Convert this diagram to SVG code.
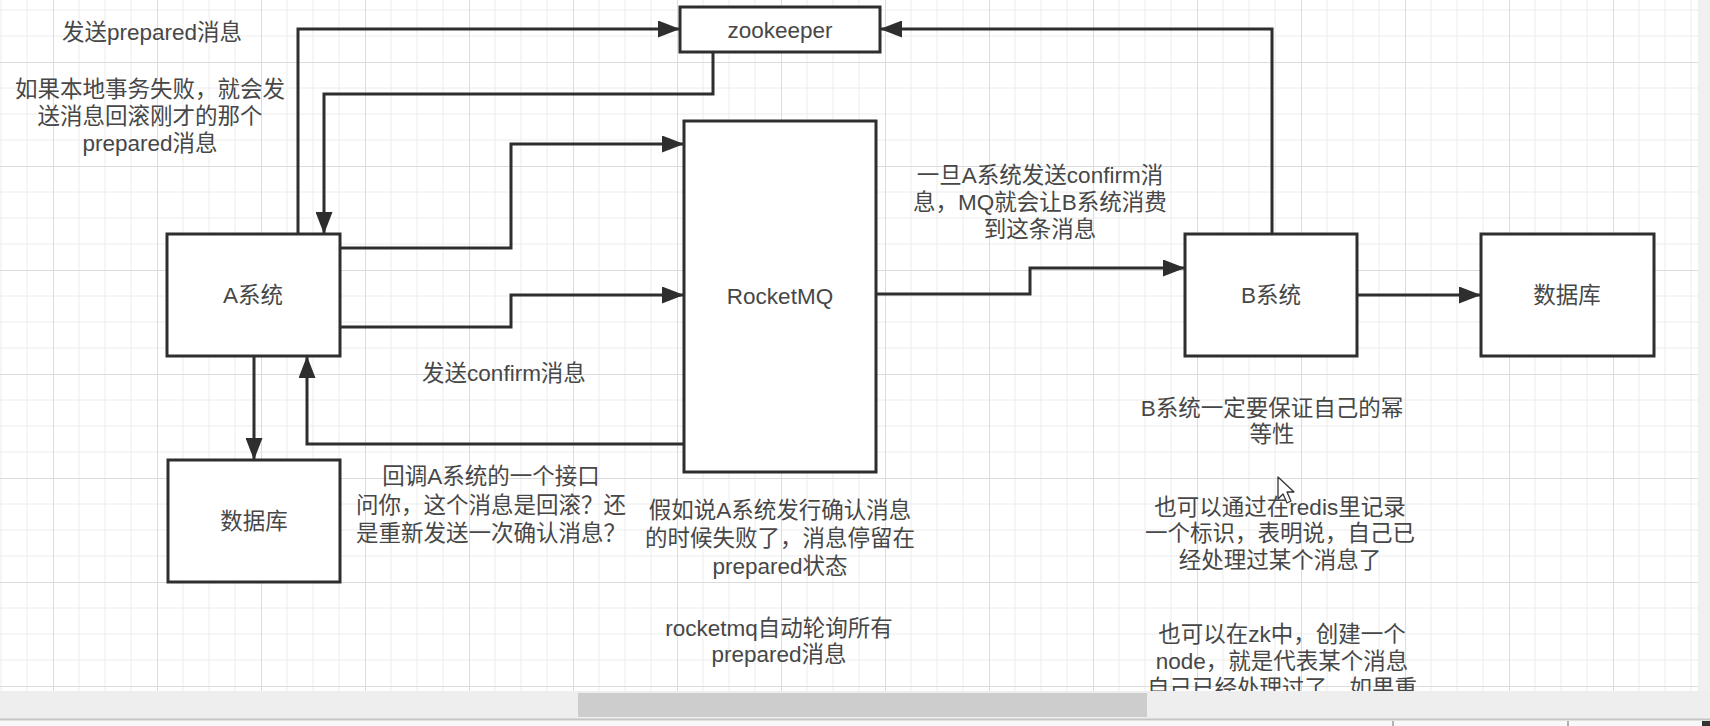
<svg xmlns="http://www.w3.org/2000/svg" width="1710" height="726" viewBox="0 0 1710 726">
<style>
.box{fill:#ffffff;stroke:#2e2e2e;stroke-width:3}
.edge{fill:none;stroke:#2e2e2e;stroke-width:3;stroke-linejoin:miter}
.t{font-family:"Liberation Sans","Noto Sans CJK SC",sans-serif;font-size:22.5px;fill:#474747;text-anchor:middle}
.minor{stroke:#ececec;stroke-width:1}
.major{stroke:#dcdcdc;stroke-width:1}
</style>
<defs>
<pattern id="grid" x="53" y="62" width="104" height="104" patternUnits="userSpaceOnUse">
<line class="minor" x1="26" y1="0" x2="26" y2="104"/>
<line class="minor" x1="52" y1="0" x2="52" y2="104"/>
<line class="minor" x1="78" y1="0" x2="78" y2="104"/>
<line class="minor" x1="0" y1="26" x2="104" y2="26"/>
<line class="minor" x1="0" y1="52" x2="104" y2="52"/>
<line class="minor" x1="0" y1="78" x2="104" y2="78"/>
<line class="major" x1="0.5" y1="0" x2="0.5" y2="104"/>
<line class="major" x1="0" y1="0.5" x2="104" y2="0.5"/>
</pattern>
<marker id="arr" markerUnits="userSpaceOnUse" markerWidth="22" markerHeight="17" refX="22" refY="8.5" orient="auto">
<path d="M0,0 L22,8.5 L0,17 Z" fill="#2e2e2e"/>
</marker>
<clipPath id="canvasClip"><rect x="0" y="0" width="1698" height="691"/></clipPath>
</defs>

<g id="background">
<rect x="0" y="0" width="1710" height="726" fill="#ffffff"/>
<rect x="0" y="0" width="1698" height="691" fill="url(#grid)"/>
<rect x="1698" y="0" width="12" height="691" fill="#f0f0f0"/>
<rect x="0" y="691" width="1710" height="28" fill="#eeeeee"/>
<rect x="578" y="693" width="569" height="24" fill="#cdcdcd"/>
<line x1="0" y1="719.5" x2="1710" y2="719.5" stroke="#c4c4c4" stroke-width="2"/>
<rect x="0" y="721" width="1710" height="5" fill="#f8f8f8"/>
<line x1="1393" y1="721" x2="1393" y2="726" stroke="#9a9a9a" stroke-width="1.5"/>
<line x1="1568" y1="721" x2="1568" y2="726" stroke="#9a9a9a" stroke-width="1.5"/>
<rect x="1702" y="721" width="8" height="5" fill="#333333"/>
</g>

<g id="connectors">
<path class="edge" d="M298,234 L298,29 L680,29" marker-end="url(#arr)"/>
<path class="edge" d="M713,52 L713,94 L324,94 L324,234" marker-end="url(#arr)"/>
<path class="edge" d="M340,248 L511,248 L511,144 L684,144" marker-end="url(#arr)"/>
<path class="edge" d="M340,327 L511,327 L511,295 L684,295" marker-end="url(#arr)"/>
<path class="edge" d="M684,444 L307,444 L307,356" marker-end="url(#arr)"/>
<path class="edge" d="M254,356 L254,460" marker-end="url(#arr)"/>
<path class="edge" d="M876,294 L1030,294 L1030,268 L1185,268" marker-end="url(#arr)"/>
<path class="edge" d="M1272,234 L1272,29 L880,29" marker-end="url(#arr)"/>
<path class="edge" d="M1357,295 L1481,295" marker-end="url(#arr)"/>
</g>

<g id="zookeeper">
<rect class="box" x="680" y="7" width="200" height="45"/>
<text class="t" x="780" y="38">zookeeper</text>
</g>
<g id="rocketmq">
<rect class="box" x="684" y="121" width="192" height="351"/>
<text class="t" x="780" y="304">RocketMQ</text>
</g>
<g id="a-system">
<rect class="box" x="167" y="234" width="173" height="122"/>
<text class="t" x="253" y="303">A系统</text>
</g>
<g id="a-db">
<rect class="box" x="168" y="460" width="172" height="122"/>
<text class="t" x="254" y="529">数据库</text>
</g>
<g id="b-system">
<rect class="box" x="1185" y="234" width="172" height="122"/>
<text class="t" x="1271" y="303">B系统</text>
</g>
<g id="b-db">
<rect class="box" x="1481" y="234" width="173" height="122"/>
<text class="t" x="1567" y="303">数据库</text>
</g>

<g id="labels" clip-path="url(#canvasClip)">
<text class="t" x="152" y="40">发送prepared消息</text>
<text class="t" y="97"><tspan x="150">如果本地事务失败，就会发</tspan><tspan x="150" dy="27">送消息回滚刚才的那个</tspan><tspan x="150" dy="27">prepared消息</tspan></text>
<text class="t" x="504" y="381">发送confirm消息</text>
<text class="t" y="183"><tspan x="1040">一旦A系统发送confirm消</tspan><tspan x="1040" dy="27">息，MQ就会让B系统消费</tspan><tspan x="1040" dy="27">到这条消息</tspan></text>
<text class="t" y="484"><tspan x="491">回调A系统的一个接口</tspan><tspan x="491" dy="29">问你，这个消息是回滚？还</tspan><tspan x="491" dy="28">是重新发送一次确认消息？</tspan></text>
<text class="t" y="518"><tspan x="780">假如说A系统发行确认消息</tspan><tspan x="780" dy="28">的时候失败了，消息停留在</tspan><tspan x="780" dy="28">prepared状态</tspan></text>
<text class="t" y="636"><tspan x="779">rocketmq自动轮询所有</tspan><tspan x="779" dy="26">prepared消息</tspan></text>
<text class="t" y="416"><tspan x="1272">B系统一定要保证自己的幂</tspan><tspan x="1272" dy="26">等性</tspan></text>
<text class="t" y="515"><tspan x="1280">也可以通过在redis里记录</tspan><tspan x="1280" dy="26">一个标识，表明说，自己已</tspan><tspan x="1280" dy="27">经处理过某个消息了</tspan></text>
<text class="t" y="642"><tspan x="1282">也可以在zk中，创建一个</tspan><tspan x="1282" dy="27">node，就是代表某个消息</tspan><tspan x="1282" dy="27">自己已经处理过了，如果重</tspan></text>
</g>

<g id="cursor">
<path d="M1278,477 L1278,499 L1283,494 L1287,503 L1291,501 L1287,492 L1294,492 Z" fill="#ffffff" stroke="#333333" stroke-width="1.3" stroke-linejoin="round"/>
</g>
</svg>
